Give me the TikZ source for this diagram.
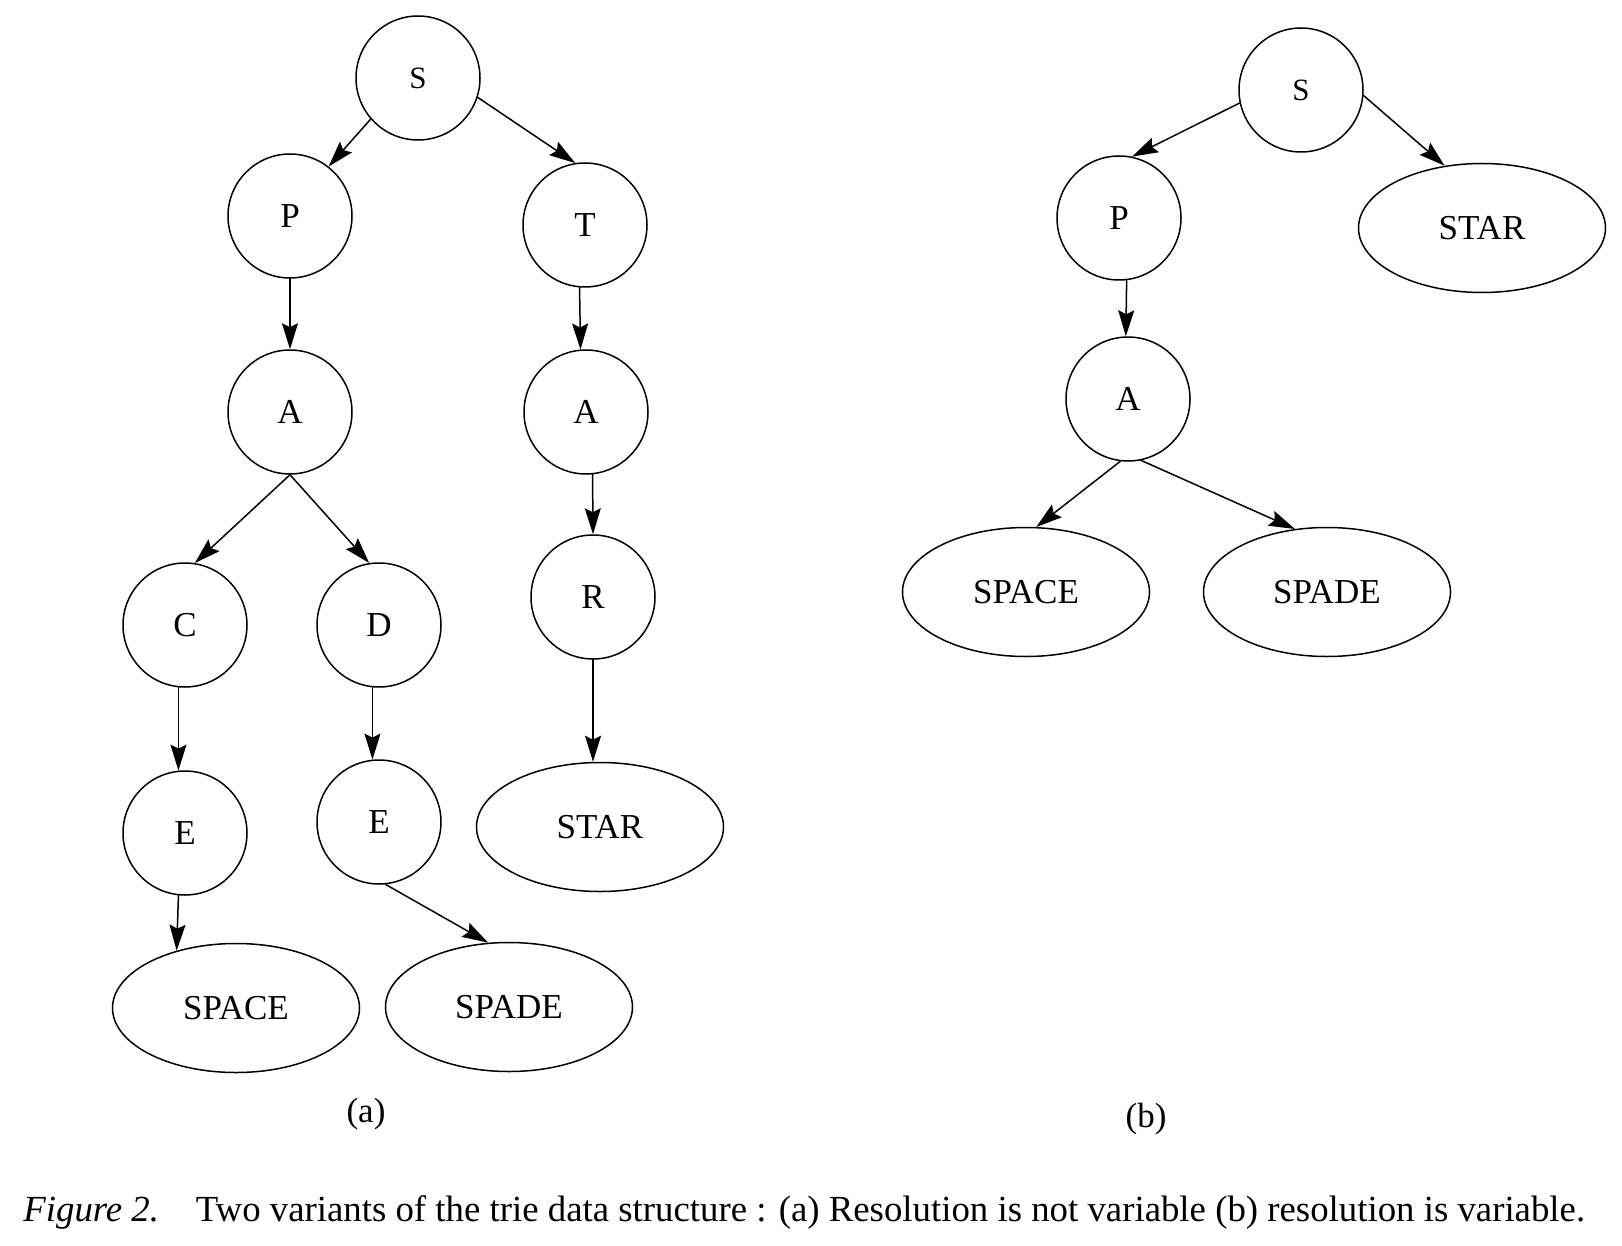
\documentclass[tikz,border=0pt]{standalone}
\usepackage{fontspec}
\setmainfont{Liberation Serif}
\usetikzlibrary{arrows.meta, shapes.geometric}

\begin{document}
\begin{tikzpicture}[x=0.5pt,y=-0.5pt,line join=round,line cap=round,
		letter/.style={draw,circle,line width=0.75pt,minimum size=62pt,inner sep=0pt,font=\fontsize{17.5}{20}\selectfont},
		word/.style={draw,ellipse,line width=0.75pt,minimum width=123.5pt,minimum height=64.5pt,inner sep=0pt,font=\fontsize{17.5}{20}\selectfont},
		link/.style={-{Stealth[length=13pt,width=8pt,inset=2pt]},line width=0.75pt}]
		\useasboundingbox (0,0) rectangle (1622,1246);
		\begin{scope}
		\node[letter,font=\fontsize{15.5}{18}\selectfont] (Sa) at (418,78) {S};
		\foreach\n/\x/\y/\t in {Pa/290/216/P,Aa/290/412/A,Ca/185/625/C,Da/379/625/D,
			Ea/185/833/E,Fa/379/822/E,Ta/585/225/T,Ba/586/412/A,Ra/593/597/R}
			\node[letter] (\n) at (\x,\y) {\t};
		\node[word] (spacea) at (236,1008) {SPACE};
		\node[word] (spadea) at (509,1007) {SPADE};
		\node[word] (stara)  at (600,827)  {STAR};
		\node (labela) at (366,1114) {\fontsize{17.5}{20}\selectfont(a)};
		\draw[link] (Sa.221) -- (Pa.52);
		\draw[link] (Sa.-18) -- (Ta.99);
		\draw[link] (Pa.south) -- (Aa.north);
		\draw[link] (Aa.south) -- (Ca.81);
		\draw[link] (Aa.south) -- (Da.99);
		\draw[link] (Ca.264) -- (Ea.96);
		\draw[link] (Da.264) -- (Fa.96);
		\draw[link] (Ea.264) -- (spacea.136);
		\draw[link] (Fa.-84) -- (spadea.108);
		\draw[link] (Ta.265) -- (Ba.95);
		\draw[link] (Ba.-84) -- (Ra.north);
		\draw[link] (Ra.south) -- (Ra.south |- stara.north);
		\end{scope}
		\begin{scope}
		\node[letter,font=\fontsize{15.5}{18}\selectfont] (Sb) at (1301,90) {S};
		\node[letter] (Pb) at (1119,218) {P};
		\node[letter] (Ab) at (1128,399) {A};
		\node[word] (starb)  at (1482,228) {STAR};
		\node[word] (spaceb) at (1026,592) {SPACE};
		\node[word] (spadeb) at (1327,592) {SPADE};
		\node (labelb) at (1146,1119) {\fontsize{17.5}{20}\selectfont(b)};
		\draw[link] (Sb.192) -- (Pb.78);
		\draw[link] (Sb.-5) -- (starb.121);
		\draw[link] (Pb.-83) -- (Ab.92);
		\draw[link] (Ab.-97) -- (spaceb.81);
		\draw[link] (Ab.-78) -- (spadeb.117);
		\end{scope}
		\node[anchor=base west,inner sep=0pt,font=\fontsize{18.4}{22}\selectfont] (caption) at (23,1221)
			{\textit{Figure 2.}\quad Two variants of the trie data structure : (a) Resolution is not variable (b) resolution is variable.};
	\end{tikzpicture}
\end{document}
